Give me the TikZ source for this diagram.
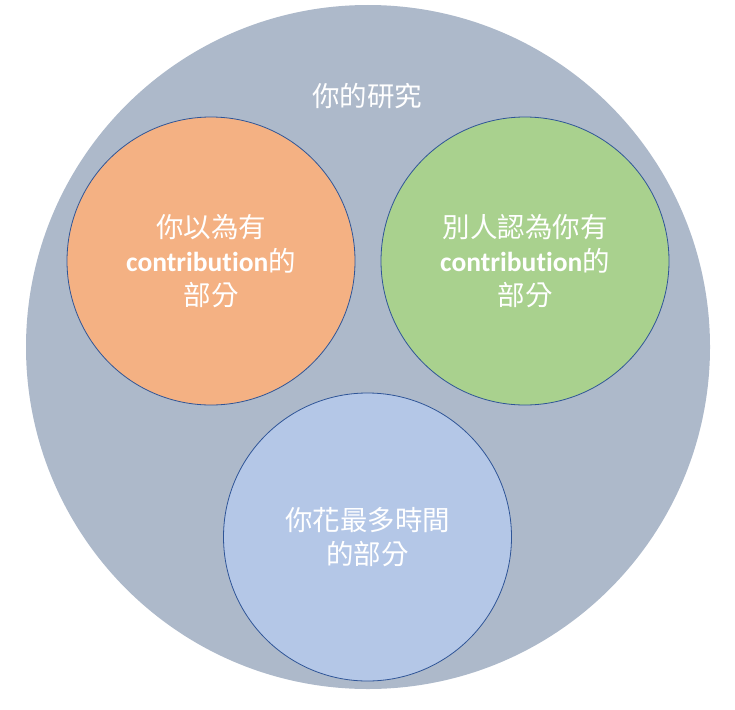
\documentclass[tikz,border=0pt]{standalone}
\usepackage{fontspec}
\setmainfont{Carlito}[Ligatures={NoCommon}]
\newfontfamily\cjk{Noto Sans CJK TC}
\definecolor{bigc}{HTML}{ADB9CA}
\definecolor{orangec}{HTML}{F4B183}
\definecolor{greenc}{HTML}{A9D18E}
\definecolor{bluec}{HTML}{B4C7E7}
\definecolor{edgec}{HTML}{2F5597}
\begin{document}
\begin{tikzpicture}[x=1pt,y=-1pt,
  inner/.style={draw=edgec, line width=0.8pt},
  txt/.style={text=white, align=center, font=\fontsize{27.5}{34}\selectfont\cjk, inner sep=0pt}]
\useasboundingbox (0,0) rectangle (735,709);
\fill[bigc] (368,347) circle[radius=342pt];
\coordinate (big) at (368,347);
\node[txt] (title) at (367,96) {你的研究};
\path[inner, fill=orangec] (211,261) circle[radius=144pt];
\path[inner, fill=greenc] (525,261) circle[radius=144pt];
\path[inner, fill=bluec] (367.5,537) circle[radius=144pt];
\node[txt] (a) at (211,261) {你以為有\\{\normalfont\bfseries contribution}的\\部分};
\node[txt] (b) at (525,261) {別人認為你有\\{\normalfont\bfseries contribution}的\\部分};
\node[txt] (c) at (367.5,537) {你花最多時間\\的部分};
\end{tikzpicture}
\end{document}
